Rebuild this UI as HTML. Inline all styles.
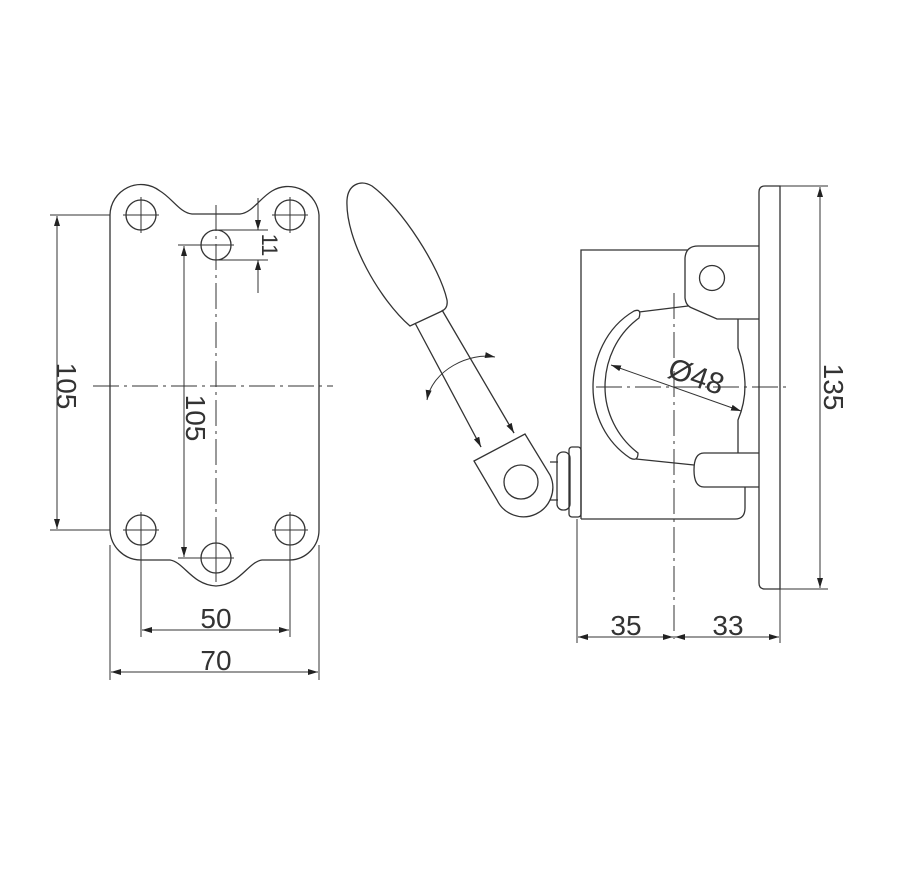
<!DOCTYPE html>
<html><head><meta charset="utf-8"><style>
html,body{margin:0;padding:0;background:#fff;}
svg{display:block}
text{font-family:"Liberation Sans",sans-serif;fill:#333;}
</style></head><body>
<svg width="900" height="893" viewBox="0 0 900 893" xmlns="http://www.w3.org/2000/svg">
<defs>
<marker id="a" viewBox="0 0 10 6" refX="10" refY="3" markerWidth="10" markerHeight="6" orient="auto-start-reverse" markerUnits="userSpaceOnUse"><path d="M0,0 L10,3 L0,6 Z" fill="#222"/></marker>
</defs>
<g fill="none" stroke="#333" stroke-width="1.3">
<path d="M110,215 A31,31 0 0 1 160,191 C172,198 180,213 192,214 L240,214 C252,213 260,198 272,191 A31,31 0 0 1 319,215 L319,530 A30,30 0 0 1 290,560 L262,560 C248,562 240,585 216,586 C192,585 184,562 170,560 L141,560 A31,31 0 0 1 110,530 Z"/>
<circle cx="141" cy="215" r="15"/><circle cx="290" cy="215" r="15"/>
<circle cx="141" cy="530" r="15"/><circle cx="290" cy="530" r="15"/>
<circle cx="216" cy="245" r="15"/><circle cx="216" cy="558" r="15"/>
<g stroke-width="1">
<path d="M123,215h36M141,197v36M272,215h36M290,197v36M123,530h36M141,512v36M272,530h36M290,512v36M198,558h36M216,540v36M198,245h36"/>
<path d="M93,386H333" stroke-dasharray="26,5,3,5"/>
<path d="M216,205V582" stroke-dasharray="26,5,3,5"/>
<path d="M50,215H110M50,530H110"/>
<path d="M57,216V529" marker-start="url(#a)" marker-end="url(#a)"/>
<path d="M178,245H216M178,558H214"/>
<path d="M184,246V557" marker-start="url(#a)" marker-end="url(#a)"/>
<path d="M216,230H268M216,260H268"/>
<path d="M258,198V230" marker-end="url(#a)"/>
<path d="M258,293V260" marker-end="url(#a)"/>
<path d="M141,545V637M290,545V637M110,545V680M319,545V680"/>
<path d="M142,630H289" marker-start="url(#a)" marker-end="url(#a)"/>
<path d="M111,672H318" marker-start="url(#a)" marker-end="url(#a)"/>
</g>
<path d="M410,326 C380,300 345,240 347,200 C348,185 360,179 372,186 C402,208 440,268 447,300 C448,307 445,310 440,312 Z"/>
<path d="M415,323 L481,447 M442,310 L514,433"/>
<path d="M474,461 L525,434 L550,475 A29,29 0 0 1 497,500 Z"/>
<circle cx="521" cy="482" r="17"/>
<path d="M550,462 H558 M550,500 H558"/>
<rect x="557" y="452" width="13" height="58" rx="6"/>
<rect x="569" y="447" width="12" height="70" rx="3"/>
<path d="M427,400 C432,370 470,352 495,357" stroke-width="1" marker-start="url(#a)" marker-end="url(#a)"/>
<path d="M478,441 L481,447" stroke-width="1" marker-end="url(#a)"/>
<path d="M510,426 L514,433" stroke-width="1" marker-end="url(#a)"/>
<path d="M581,519 V250 H688"/>
<path d="M581,519 H735 Q745,519 745,508 V487"/>
<path d="M698,246 H759 M685,258 Q686,246 698,246 M685,258 V298 Q686,306 692,308 L717,319 H759"/>
<circle cx="712" cy="278" r="12.5"/>
<path d="M738,319 V348 Q752,387 738,420 V453"/>
<path d="M759,453 H704 Q694,453 694,470 Q694,487 704,487 H759"/>
<path d="M634,311 C605,328 593,360 593,387 C593,415 606,442 630,458 Q638,462 638,453 C617,437 605,412 605,387 C605,360 617,334 639,318 Q642,308 634,311 Z"/>
<path d="M639,312 L688,306 M636,459 L694,465"/>
<path d="M765,186 H780 V589 H765 Q759,589 759,583 V192 Q759,186 765,186 Z"/>
<g stroke-width="1">
<path d="M596,387 H786" stroke-dasharray="26,5,3,5"/>
<path d="M674,293 V640" stroke-dasharray="26,5,3,5"/>
<path d="M611,365 L741,411" marker-start="url(#a)" marker-end="url(#a)"/>
<path d="M780,186 H828 M780,589 H828"/>
<path d="M820,187 V588" marker-start="url(#a)" marker-end="url(#a)"/>
<path d="M577,519 V643 M780,589 V643"/>
<path d="M578,637 H673" marker-start="url(#a)" marker-end="url(#a)"/>
<path d="M675,637 H779" marker-start="url(#a)" marker-end="url(#a)"/>
</g>
</g>
<g font-size="28">
<text x="0" y="0" transform="translate(57,386) rotate(90)" text-anchor="middle">105</text>
<text x="0" y="0" transform="translate(186,418) rotate(90)" text-anchor="middle">105</text>
<text x="0" y="0" font-size="22" transform="translate(262,245) rotate(90)" text-anchor="middle">11</text>
<text x="216" y="628" text-anchor="middle">50</text>
<text x="216" y="670" text-anchor="middle">70</text>
<text x="0" y="0" font-size="30" transform="translate(693,386) rotate(19)" text-anchor="middle">Ø48</text>
<text x="0" y="0" transform="translate(824,387) rotate(90)" text-anchor="middle">135</text>
<text x="626" y="635" text-anchor="middle">35</text>
<text x="728" y="635" text-anchor="middle">33</text>
</g>
</svg>
</body></html>
